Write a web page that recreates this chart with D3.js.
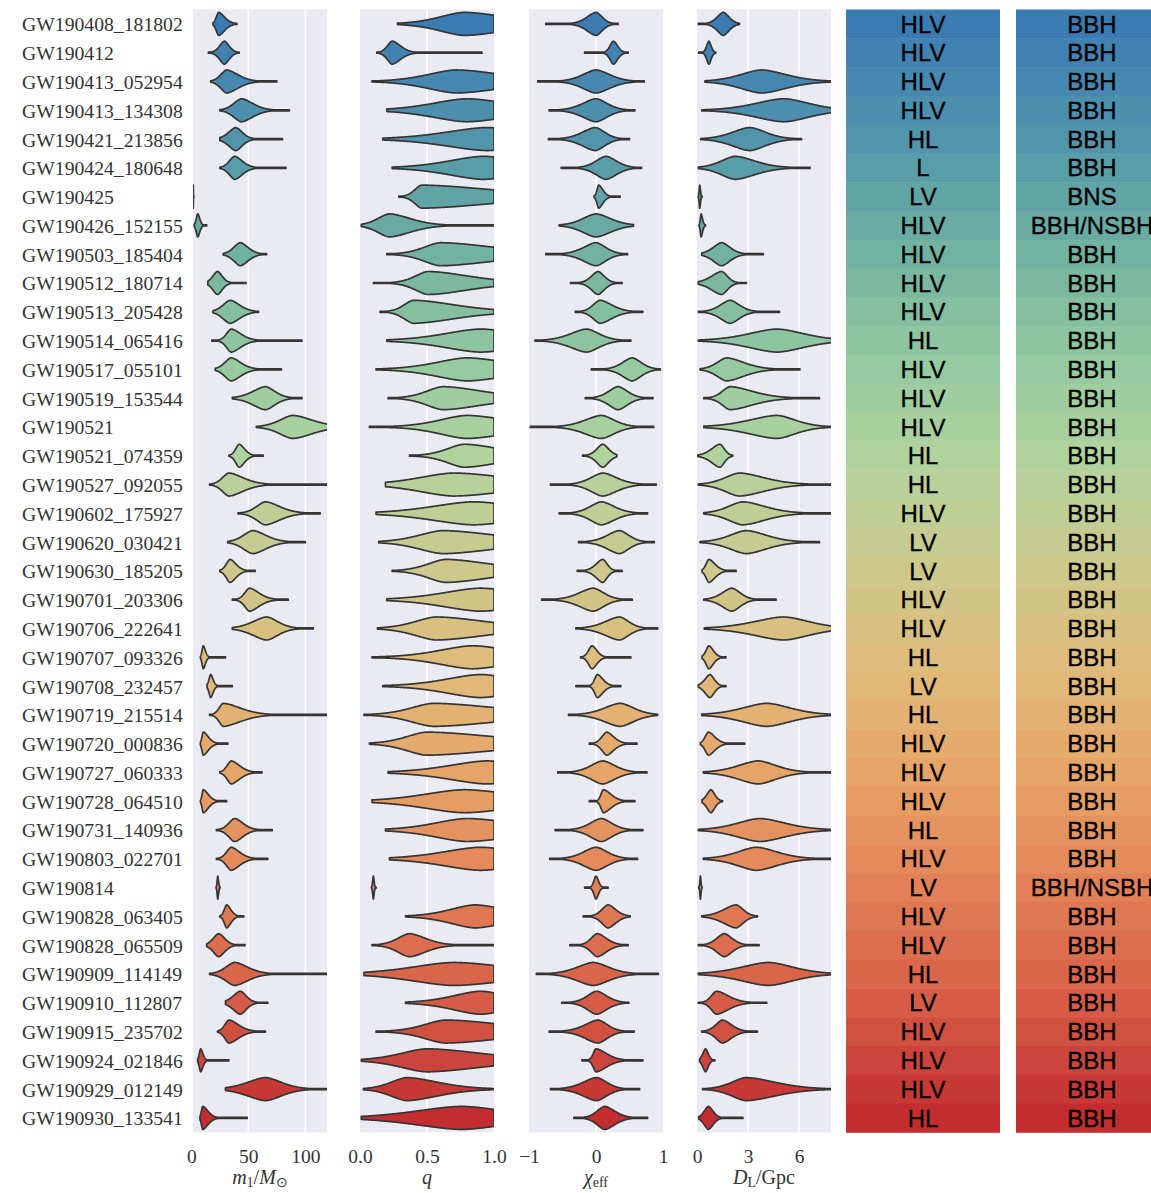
<!DOCTYPE html>
<html>
<head>
<meta charset="utf-8">
<script src="https://cdn.jsdelivr.net/npm/d3@7"></script>
<style>
  body { margin: 0; background: #fff; }
  svg { display: block; }
</style>
</head>
<body>
<script>
// events, top to bottom
var events = ["GW190408_181802", "GW190412", "GW190413_052954", "GW190413_134308", "GW190421_213856",
  "GW190424_180648", "GW190425", "GW190426_152155", "GW190503_185404", "GW190512_180714",
  "GW190513_205428", "GW190514_065416", "GW190517_055101", "GW190519_153544", "GW190521",
  "GW190521_074359", "GW190527_092055", "GW190602_175927", "GW190620_030421", "GW190630_185205",
  "GW190701_203306", "GW190706_222641", "GW190707_093326", "GW190708_232457", "GW190719_215514",
  "GW190720_000836", "GW190727_060333", "GW190728_064510", "GW190731_140936", "GW190803_022701",
  "GW190814", "GW190828_063405", "GW190828_065509", "GW190909_114149", "GW190910_112807",
  "GW190915_235702", "GW190924_021846", "GW190929_012149", "GW190930_133541"];

var detectors = ["HLV", "HLV", "HLV", "HLV", "HL", "L", "LV", "HLV", "HLV", "HLV",
  "HLV", "HL", "HLV", "HLV", "HLV", "HL", "HL", "HLV", "LV", "LV",
  "HLV", "HLV", "HL", "LV", "HL", "HLV", "HLV", "HLV", "HL", "HLV",
  "LV", "HLV", "HLV", "HL", "LV", "HLV", "HLV", "HLV", "HL"];

var sources = ["BBH", "BBH", "BBH", "BBH", "BBH", "BBH", "BNS", "BBH/NSBH", "BBH", "BBH",
  "BBH", "BBH", "BBH", "BBH", "BBH", "BBH", "BBH", "BBH", "BBH", "BBH",
  "BBH", "BBH", "BBH", "BBH", "BBH", "BBH", "BBH", "BBH", "BBH", "BBH",
  "BBH/NSBH", "BBH", "BBH", "BBH", "BBH", "BBH", "BBH", "BBH", "BBH"];

// violin outlines: [tail start, body start, peak, body end, tail end]
var m1 = [[19, 20, 24, 34, 40], [15, 21, 29, 37, 42], [17, 21, 31, 50, 75], [25, 31, 44, 63, 86],
  [25, 27, 39, 50, 80], [25, 29, 38, 51, 83], [1.4, 1.5, 1.7, 1.9, 2.2], [2.6, 3.2, 5.7, 9, 13.5],
  [28, 32, 43, 56, 66], [14.5, 15, 23, 31, 48], [19, 22, 34, 50, 59], [18, 27, 35, 51, 97],
  [21, 24, 35, 51, 79], [36, 44, 65, 81, 97], [57, 67, 89, 122, 130], [33, 36, 42, 51, 63],
  [16, 22, 33, 57, 125], [41, 50, 65, 89, 113], [32, 38, 54, 76, 100], [25, 27.5, 34, 44, 56],
  [36, 43, 51, 67, 85], [36, 43, 66, 85, 107], [8, 8.5, 10.5, 14, 30], [13.8, 14.2, 17, 21, 36],
  [16, 21, 28, 57, 125], [8, 8.3, 10.5, 19, 32], [25, 28, 35, 49, 62], [8, 8.5, 10.5, 19, 31],
  [22, 28, 38, 52, 71], [22, 27, 35, 49, 67], [21.7, 22.2, 23.2, 24.5, 25.2], [25, 27, 31, 38, 46],
  [13.5, 15, 24, 34, 47], [16, 23, 38, 60, 125], [30, 31, 43, 53, 67], [23, 26, 33, 49, 65],
  [5.6, 6, 8.2, 12, 33], [30, 35, 65, 92, 119], [7.6, 7.8, 10, 19, 49]];

var q = [[0.28, 0.42, 0.78, 1.4, 1], [0.125, 0.17, 0.24, 0.36, 0.91], [0.09, 0.3, 0.72, 1.4, 1],
  [0.2, 0.3, 0.8, 1.4, 1], [0.17, 0.35, 0.95, 1.5, 1], [0.24, 0.42, 0.92, 1.5, 1],
  [0.29, 0.36, 0.46, 1.5, 1], [0.01, 0.05, 0.22, 0.52, 1], [0.2, 0.36, 0.6, 1.4, 1],
  [0.1, 0.32, 0.51, 1.1, 1], [0.15, 0.26, 0.4, 1.0, 1], [0.2, 0.38, 0.9, 1.5, 1],
  [0.12, 0.35, 0.8, 1.4, 1], [0.21, 0.38, 0.62, 1.2, 1], [0.07, 0.4, 0.8, 1.4, 1],
  [0.37, 0.53, 0.78, 1.3, 1], [0.19, 0.2, 0.7, 1.5, 1], [0.12, 0.25, 0.85, 1.5, 1],
  [0.14, 0.27, 0.62, 1.4, 1], [0.24, 0.38, 0.64, 1.3, 1], [0.2, 0.36, 0.9, 1.5, 1],
  [0.13, 0.26, 0.57, 1.3, 1], [0.09, 0.36, 0.84, 1.4, 1], [0.17, 0.4, 0.9, 1.4, 1],
  [0.03, 0.22, 0.55, 1.5, 1], [0.07, 0.2, 0.5, 1.5, 1], [0.21, 0.4, 0.95, 1.5, 1],
  [0.09, 0.2, 0.78, 1.5, 1], [0.19, 0.33, 0.8, 1.5, 1], [0.22, 0.36, 0.9, 1.5, 1],
  [0.085, 0.09, 0.1, 0.11, 0.12], [0.34, 0.5, 0.86, 1.3, 1], [0.09, 0.2, 0.37, 0.6, 1],
  [0.03, 0.1, 0.7, 1.5, 1], [0.34, 0.5, 0.9, 1.3, 1], [0.12, 0.33, 0.64, 1.5, 1],
  [0.01, 0.12, 0.5, 1.3, 1], [0.025, 0.12, 0.35, 0.8, 1], [0.01, 0.1, 0.76, 1.4, 1]];

var chiEff = [[-0.75, -0.26, 0.0, 0.18, 0.33], [-0.17, 0.16, 0.26, 0.38, 0.48], [-0.87, -0.38, 0.0, 0.4, 0.72],
  [-0.7, -0.38, 0.0, 0.32, 0.58], [-0.71, -0.38, -0.01, 0.26, 0.5], [-0.52, -0.14, 0.15, 0.45, 0.68],
  [-0.03, -0.01, 0.04, 0.16, 0.36], [-0.55, -0.38, 0.0, 0.42, 0.56], [-0.75, -0.36, 0.0, 0.28, 0.47],
  [-0.38, -0.16, 0.03, 0.21, 0.39], [-0.31, -0.14, 0.06, 0.4, 0.7], [-0.91, -0.6, -0.14, 0.22, 0.52],
  [-0.07, 0.26, 0.54, 0.8, 0.96], [-0.16, 0.06, 0.33, 0.6, 0.85], [-0.98, -0.39, 0.08, 0.45, 0.86],
  [-0.2, -0.07, 0.1, 0.27, 0.31], [-0.68, -0.24, 0.1, 0.5, 0.9], [-0.55, -0.24, 0.08, 0.45, 0.77],
  [-0.26, 0.0, 0.35, 0.62, 0.87], [-0.28, -0.09, 0.1, 0.23, 0.39], [-0.81, -0.44, -0.04, 0.26, 0.54],
  [-0.3, -0.06, 0.35, 0.62, 0.92], [-0.23, -0.16, -0.06, 0.08, 0.52], [-0.3, -0.06, 0.02, 0.18, 0.37],
  [-0.41, -0.09, 0.36, 0.75, 0.92], [-0.1, 0.02, 0.16, 0.36, 0.61], [-0.57, -0.24, 0.1, 0.45, 0.76],
  [-0.1, 0.04, 0.11, 0.33, 0.58], [-0.61, -0.24, 0.08, 0.38, 0.7], [-0.69, -0.36, 0.0, 0.33, 0.62],
  [-0.17, -0.06, 0.0, 0.07, 0.18], [-0.19, 0.0, 0.18, 0.4, 0.51], [-0.39, -0.16, 0.02, 0.28, 0.48],
  [-0.89, -0.5, -0.04, 0.4, 0.93], [-0.51, -0.26, 0.01, 0.3, 0.49], [-0.7, -0.34, 0.03, 0.3, 0.57],
  [-0.21, -0.08, 0.0, 0.3, 0.7], [-0.68, -0.38, 0.01, 0.3, 0.65], [-0.33, -0.09, 0.13, 0.42, 0.77]];

var dL = [[0.08, 0.85, 1.55, 2.2, 2.5], [0.1, 0.45, 0.7, 0.95, 1.1], [0.47, 1.4, 3.8, 6.6, 7.9],
  [0.28, 1.9, 5.1, 8.0, 8.2], [0.22, 1.15, 3.1, 4.9, 6.15], [0.08, 0.65, 2.25, 4.5, 6.65],
  [0.07, 0.1, 0.16, 0.24, 0.3], [0.12, 0.16, 0.24, 0.4, 0.5], [0.28, 0.5, 1.45, 2.4, 3.9],
  [0.08, 0.3, 1.45, 2.1, 2.9], [0.08, 0.85, 1.95, 3.0, 4.85], [0.08, 1.5, 4.7, 7.8, 8.2],
  [0.18, 0.65, 1.75, 3.7, 6.05], [0.4, 1.05, 1.95, 4.5, 7.2], [0.4, 1.55, 4.7, 6.8, 7.9],
  [0.04, 0.4, 1.35, 1.85, 2.1], [0.08, 0.85, 2.5, 5.3, 8.2], [0.4, 1.05, 2.7, 5.2, 7.9],
  [0.18, 1.05, 2.9, 5.2, 7.2], [0.3, 0.37, 0.7, 1.4, 2.3], [0.4, 0.95, 2.05, 3.0, 4.65],
  [0.43, 1.75, 5.1, 8.0, 8.2], [0.3, 0.37, 0.7, 1.2, 1.7], [0.08, 0.2, 0.76, 1.25, 1.7],
  [0.28, 1.35, 4.1, 6.8, 8.0], [0.2, 0.3, 0.67, 1.4, 2.8], [0.37, 1.35, 3.6, 5.65, 7.9],
  [0.3, 0.37, 0.82, 1.25, 1.5], [0.08, 1.15, 3.7, 6.6, 8.0], [0.37, 1.35, 3.5, 5.85, 7.9],
  [0.1, 0.14, 0.2, 0.26, 0.3], [0.28, 0.9, 2.3, 3.1, 3.55], [0.08, 0.75, 1.6, 2.5, 3.65],
  [0.08, 1.15, 4.2, 7.0, 8.2], [0.08, 0.55, 1.15, 2.5, 4.1], [0.28, 0.75, 1.5, 2.5, 3.55],
  [0.15, 0.2, 0.5, 0.8, 1.05], [0.33, 1.25, 2.9, 6.2, 7.9], [0.1, 0.2, 0.67, 1.2, 2.7]];

var m1Ticks = [0, 50, 100];
var qTicks = [0, 0.5, 1];
var chiTicks = [-1, 0, 1];
var dLTicks = [0, 3, 6];

// row colours, blue at the top to red at the bottom
var palette = ["#3b7bb4", "#5094ac", "#6eafa0", "#91c8a0", "#b2d49e", "#cdc88c",
  "#e1b978", "#e8a064", "#e17d55", "#d55a46", "#c32d30"];
var rowColour = d3.piecewise(d3.interpolateRgb, palette);

var width = 1151,
  height = 1193,
  yTop = 9.5,
  yBottom = 1132.3;

var svg = d3.select("body").append("svg")
  .attr("width", width)
  .attr("height", height);

var y = d3.scaleBand().domain(events).range([yTop, yBottom]);
var halfW = y.bandwidth() * 0.4;

function colourOf(i) {
  return rowColour(i / (events.length - 1));
}

// event names
svg.append("g").selectAll("text")
  .data(events)
  .enter().append("text")
  .attr("x", 22)
  .attr("y", function(d) { return y(d) + y.bandwidth() / 2; })
  .attr("dy", "0.38em")
  .style("font-family", "'Liberation Serif', serif")
  .style("font-size", "19.7px")
  .style("fill", "#333")
  .text(function(d) { return d; });

var panels = [
  {data: m1, domain: [1.5, 119], range: [193, 327], ticks: m1Ticks, fmt: d3.format("d"),
    title: [["m", "i"], ["1", "sub"], ["/", ""], ["M", "i"], ["\u2299", "sub"]]},
  {data: q, domain: [0, 1], range: [360, 494], ticks: qTicks, fmt: d3.format(".1f"),
    title: [["q", "i"]]},
  {data: chiEff, domain: [-1, 1], range: [529, 663], ticks: chiTicks, fmt: d3.format("d"),
    title: [["\u03c7", "i"], ["eff", "sub"]]},
  {data: dL, domain: [0, 7.88], range: [697, 831], ticks: dLTicks, fmt: d3.format("d"),
    title: [["D", "i"], ["L", "sub"], ["/Gpc", ""]]}
];

// outline of one violin from its five read-off values
function violinPath(x, cy, v) {
  var lo = v[0], b0 = v[1], mode = v[2], b1 = v[3], hi = v[4];
  var sL = Math.max((mode - b0) / 2, 1e-6),
    sR = Math.max((b1 - mode) / 2, 1e-6);
  var pts = d3.range(0, 161).map(function(k) { return lo + (hi - lo) * k / 160; });
  if (mode > lo && mode < hi) pts.push(mode);
  pts.sort(d3.ascending);
  function w(t) {
    var z = Math.abs(t - mode) / (t < mode ? sL : sR);
    return Math.max(Math.exp(-0.5 * Math.pow(z, 1.7)), 0.045);
  }
  return d3.area()
    .x(function(t) { return x(t); })
    .y0(function(t) { return cy - halfW * w(t); })
    .y1(function(t) { return cy + halfW * w(t); })(pts);
}

panels.forEach(function(p, pi) {
  var x = d3.scaleLinear().domain(p.domain).range(p.range);
  var g = svg.append("g");

  g.append("clipPath").attr("id", "clip" + pi)
    .append("rect")
    .attr("x", p.range[0]).attr("y", yTop)
    .attr("width", p.range[1] - p.range[0]).attr("height", yBottom - yTop);

  g.append("rect")
    .attr("x", p.range[0]).attr("y", yTop)
    .attr("width", p.range[1] - p.range[0]).attr("height", yBottom - yTop)
    .attr("fill", "#eaeaf2");

  // white grid lines for ticks inside the panel
  g.selectAll("line.grid")
    .data(p.ticks.filter(function(t) { return x(t) > p.range[0] + 2 && x(t) < p.range[1] - 2; }))
    .enter().append("line")
    .attr("class", "grid")
    .attr("x1", function(t) { return x(t); }).attr("x2", function(t) { return x(t); })
    .attr("y1", yTop).attr("y2", yBottom)
    .attr("stroke", "#fff").attr("stroke-width", 1.6);

  g.append("g").attr("clip-path", "url(#clip" + pi + ")")
    .selectAll("path")
    .data(p.data)
    .enter().append("path")
    .attr("d", function(d, i) { return violinPath(x, y(events[i]) + y.bandwidth() / 2, d); })
    .attr("fill", function(d, i) { return colourOf(i); })
    .attr("stroke", "#353535")
    .attr("stroke-width", 1.7)
    .attr("stroke-linejoin", "round");

  var axis = d3.axisBottom(x).tickValues(p.ticks).tickFormat(p.fmt).tickSize(0).tickPadding(17);
  var ax = g.append("g").attr("transform", "translate(0," + yBottom + ")").call(axis);
  ax.select(".domain").remove();
  ax.selectAll("text")
    .style("font-family", "'Liberation Serif', serif")
    .style("font-size", "19.5px")
    .style("fill", "#333");

  // axis title with italic symbols and subscripts
  var title = g.append("text")
    .attr("x", (p.range[0] + p.range[1]) / 2)
    .attr("y", 1184)
    .attr("text-anchor", "middle")
    .style("font-family", "'Liberation Serif', serif")
    .style("font-size", "20px")
    .style("fill", "#333");
  var shifted = false;
  p.title.forEach(function(seg) {
    var t = title.append("tspan").text(seg[0]);
    if (seg[1] === "i") t.style("font-style", "italic");
    if (seg[1] === "sub") {
      t.style("font-size", "14px");
      if (!shifted) { t.attr("dy", 3); shifted = true; }
    } else if (shifted) {
      t.attr("dy", -3); shifted = false;
    }
  });
});

// detector and source columns
var columns = [
  {values: detectors, x: 846, w: 154},
  {values: sources, x: 1016, w: 152}
];

columns.forEach(function(c) {
  var g = svg.append("g");
  g.selectAll("rect")
    .data(c.values)
    .enter().append("rect")
    .attr("x", c.x)
    .attr("y", function(d, i) { return y(events[i]); })
    .attr("width", c.w)
    .attr("height", y.bandwidth() + 0.5)
    .attr("fill", function(d, i) { return colourOf(i); });
  g.selectAll("text")
    .data(c.values)
    .enter().append("text")
    .attr("x", c.x + c.w / 2)
    .attr("y", function(d, i) { return y(events[i]) + y.bandwidth() / 2; })
    .attr("dy", "0.36em")
    .attr("text-anchor", "middle")
    .style("font-family", "'Liberation Sans', Arial, sans-serif")
    .style("font-size", "24px")
    .style("fill", "#000")
    .style("stroke", "#000")
    .style("stroke-width", 0.3)
    .text(function(d) { return d; });
});
</script>
</body>
</html>
